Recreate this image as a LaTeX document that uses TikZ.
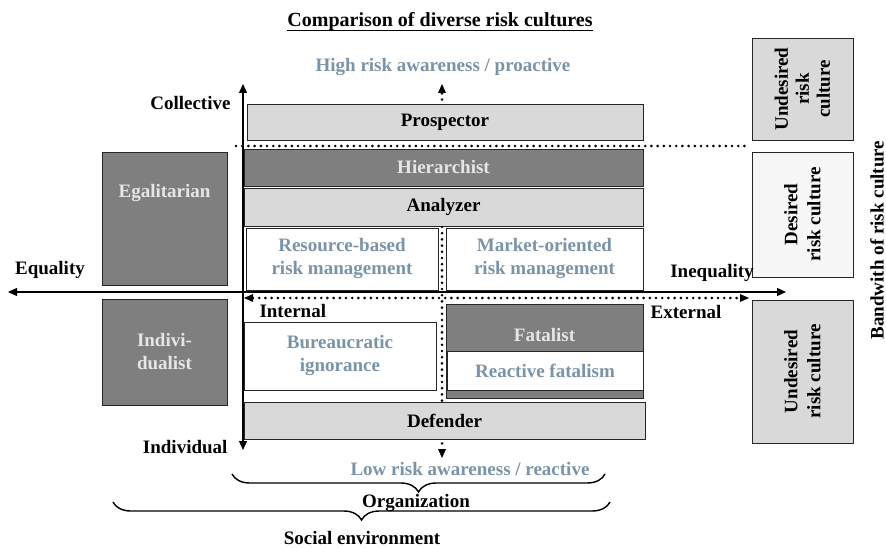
\documentclass[tikz,border=0pt]{standalone}
\usepackage{fontspec}
\setmainfont{Liberation Serif}
\usepackage{xcolor}
\usetikzlibrary{positioning,calc,arrows.meta,decorations.pathreplacing}

\definecolor{boxdark}{HTML}{7F7F7F}
\definecolor{boxlight}{HTML}{D9D9D9}
\definecolor{boxpale}{HTML}{F7F7F7}
\definecolor{bluegray}{HTML}{7B93A8}
\definecolor{palegray}{HTML}{E6E6E6}

\tikzset{
  box/.style={draw=black!85, line width=0.9pt, inner sep=2pt, align=center},
  darkbox/.style={box, fill=boxdark},
  lightbox/.style={box, fill=boxlight},
  whitebox/.style={box, fill=white, text=bluegray},
  axisline/.style={line width=1.4pt, {Triangle[length=9pt,width=8pt]}-{Triangle[length=9pt,width=8pt]}},
  dotline/.style={line width=2.9pt, dash pattern=on 0pt off 6.2pt, line cap=round},
  dotarrow/.style={dotline, -{Triangle[length=9pt,width=8pt,line width=0pt]}},
  curly/.style={line width=1.4pt, decorate, decoration={brace, mirror, amplitude=18pt}},
}

\begin{document}
\begin{tikzpicture}[x=1pt, y=-1pt, font=\fontsize{19}{23}\selectfont\bfseries]
\useasboundingbox (0,0) rectangle (886,548);

% title and top / bottom labels
\node[inner sep=0pt, font=\fontsize{20}{24}\selectfont\bfseries] (title) at (440,22) {Comparison of diverse risk cultures};
\draw[line width=1.6pt] ($(title.base west)+(0,3.5)$) -- ($(title.base east)+(0,3.5)$);
\node[text=bluegray] (high) at (443,67) {High risk awareness / proactive};
\node[text=bluegray] (low) at (470,469) {Low risk awareness / reactive};

% culture boxes
\node[lightbox, minimum width=396pt, minimum height=36pt] (prosp) at (445,122) {Prospector};
\node[darkbox, minimum width=399pt, minimum height=37pt, text=palegray] (hier) at (443.5,167.5) {Hierarchist};
\node[lightbox, minimum width=399pt, minimum height=38pt] (analyz) at (443.5,207) {Analyzer};
\node[whitebox, minimum width=192pt, minimum height=62pt] (resource) at (342,259) {Resource-based\\risk management};
\node[whitebox, minimum width=197pt, minimum height=62pt] (market) at (544.5,259) {Market-oriented\\risk management};
\node[darkbox, minimum width=125pt, minimum height=133pt] (egal) at (164.5,218.5) {};
\node[text=palegray] (egaltxt) at (164.5,193) {Egalitarian};
\node[darkbox, minimum width=125pt, minimum height=106pt, text=palegray] (indiv) at (164.5,352) {Indivi-\\dualist};
\node[whitebox, minimum width=192pt, minimum height=68pt] (bureau) at (340,356) {Bureaucratic\\ignorance};
\node[darkbox, minimum width=197pt, minimum height=94pt] (fatal) at (544.5,351) {};
\node[text=palegray] (fataltxt) at (544.5,335) {Fatalist};
\node[whitebox, minimum width=196pt, minimum height=39pt] (reactive) at (545,370.5) {Reactive fatalism};
\node[lightbox, minimum width=401pt, minimum height=37pt] (defend) at (444.5,420.5) {Defender};

% bandwidth boxes on the right
\node[lightbox, rotate=90, minimum width=102pt, minimum height=101pt, font=\fontsize{19}{21}\selectfont\bfseries] (undes1) at (802.5,89) {Undesired\\risk\\culture};
\node[box, fill=boxpale, rotate=90, minimum width=125pt, minimum height=101pt] (desired) at (802.5,214.5) {Desired\\risk culture};
\node[lightbox, rotate=90, minimum width=143pt, minimum height=101pt] (undes2) at (802.5,371.5) {Undesired\\risk culture};
\node[rotate=90] (bandw) at (877,240) {Bandwith of risk culture};

% axis labels
\node[anchor=east] (coll) at (234,103) {Collective};
\node[anchor=east] (indl) at (231,447) {Individual};
\node (equal) at (50,270) {Equality};
\node (inequal) at (712,273) {Inequality};
\node[anchor=west] (intern) at (256,311) {Internal};
\node (extern) at (686,312) {External};

% axes
\coordinate (ytop) at (243,84);
\coordinate (ybot) at (243,450);
\coordinate (xleft) at (8,292);
\coordinate (xright) at (786,292);
\draw[axisline] (ybot) -- (ytop);
\draw[axisline] (xleft) -- (xright);

% dotted lines
\coordinate (bandl) at (236,146);
\coordinate (bandr) at (748,146);
\coordinate (inl) at (244,298);
\coordinate (inr) at (749,298);
\coordinate (midtop) at (442,227);
\coordinate (midbot) at (442,401);
\coordinate (uptip) at (442,84);
\coordinate (dntip) at (442,458);
\draw[dotline] (bandl) -- (bandr);
\draw[dotline, {Triangle[length=9pt,width=8pt,line width=0pt]}-{Triangle[length=9pt,width=8pt,line width=0pt]}] (inl) -- (inr);
\draw[dotline] (midtop) -- (midbot);
\draw[dotarrow] ($(prosp.north -| midtop)+(0,-4)$) -- (uptip);
\draw[dotarrow] ($(defend.south -| midtop)+(0,4)$) -- (dntip);

% braces
\coordinate (orgl) at (232,474);
\coordinate (orgr) at (605,474);
\coordinate (socl) at (113,502);
\coordinate (socr) at (610,502);
\draw[curly] (orgl) -- (orgr);
\draw[curly] (socl) -- (socr);
\node (org) at (416,503) {Organization};
\node (soc) at (362,538) {Social environment};
\end{tikzpicture}
\end{document}
